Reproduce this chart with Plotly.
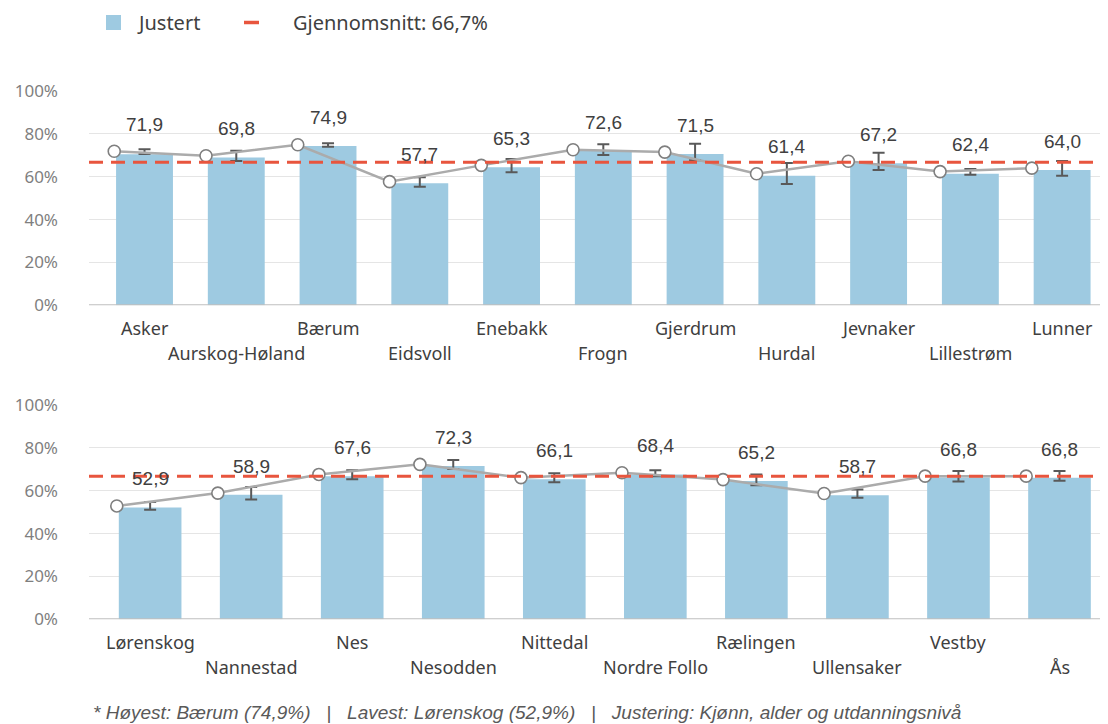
import plotly.graph_objects as go

# ---------------- data ----------------
top_cats = ["Asker", "Aurskog-Høland", "Bærum", "Eidsvoll", "Enebakk", "Frogn",
            "Gjerdrum", "Hurdal", "Jevnaker", "Lillestrøm", "Lunner"]
top_raw = [71.9, 69.8, 74.9, 57.7, 65.3, 72.6, 71.5, 61.4, 67.2, 62.4, 64.0]
top_adj = [70.5, 69.0, 74.3, 56.9, 64.4, 72.0, 70.6, 60.5, 66.3, 61.4, 63.1]
top_lo = [70.6, 67.3, 74.0, 55.3, 62.1, 70.1, 67.7, 56.6, 63.1, 60.9, 60.5]
top_hi = [72.8, 72.1, 75.6, 59.7, 68.3, 75.1, 75.4, 66.4, 71.2, 63.6, 67.3]

bot_cats = ["Lørenskog", "Nannestad", "Nes", "Nesodden", "Nittedal", "Nordre Follo",
            "Rælingen", "Ullensaker", "Vestby", "Ås"]
bot_raw = [52.9, 58.9, 67.6, 72.3, 66.1, 68.4, 65.2, 58.7, 66.8, 66.8]
bot_adj = [52.2, 58.1, 66.8, 71.5, 65.3, 67.6, 64.5, 57.9, 66.2, 66.0]
bot_lo = [51.1, 55.9, 65.4, 70.1, 63.9, 66.8, 62.6, 56.7, 64.3, 64.7]
bot_hi = [54.7, 61.7, 69.6, 74.3, 68.1, 69.6, 67.6, 60.6, 69.2, 69.2]

mean_val = 66.7
y_ticks = [0, 20, 40, 60, 80, 100]
y_ticktext = ["0%", "20%", "40%", "60%", "80%", "100%"]

legend_bar = "Justert"
legend_mean = "Gjennomsnitt: 66,7%"
footnote = ("* Høyest: Bærum (74,9%)   |   Lavest: Lørenskog (52,9%)   |   "
            "Justering: Kjønn, alder og utdanningsnivå")

# ---------------- styles ----------------
BAR_COLOR = "#9ECAE1"
LINE_COLOR = "#ABABAB"
MARKER_LINE = "#7F7F7F"
ERR_COLOR = "#595959"
MEAN_COLOR = "#E8553E"
TEXT_COLOR = "#404040"
TICK_COLOR = "#7F7F7F"
GRID_COLOR = "#E5E5E5"
AXIS_COLOR = "#BFBFBF"
CAT_FONT = "Noto Sans"
NUM_FONT = "Liberation Sans"

W, H = 1108, 724
OX, OY = 8, 8  # page body margin offset


def px(x):
    return (x - OX) / W


def py(y):
    return 1 - (y - OY) / H


fig = go.Figure()

panels = [
    dict(cats=top_cats, raw=top_raw, adj=top_adj, lo=top_lo, hi=top_hi, xa="x", ya="y"),
    dict(cats=bot_cats, raw=bot_raw, adj=bot_adj, lo=bot_lo, hi=bot_hi, xa="x2", ya="y2"),
]

OFFSET = 0.33
annotations = []
shapes = []

for p in panels:
    n = len(p["cats"])
    xs = list(range(n))
    fig.add_trace(go.Bar(
        x=xs, y=p["adj"], width=0.62, marker=dict(color=BAR_COLOR, line=dict(width=0)),
        error_y=dict(type="data", symmetric=False,
                     array=[h - a for h, a in zip(p["hi"], p["adj"])],
                     arrayminus=[a - l for a, l in zip(p["adj"], p["lo"])],
                     color=ERR_COLOR, thickness=2, width=6),
        xaxis=p["xa"], yaxis=p["ya"], showlegend=False, hoverinfo="skip",
    ))
    fig.add_trace(go.Scatter(
        x=[i - OFFSET for i in xs], y=p["raw"], mode="lines+markers",
        line=dict(color=LINE_COLOR, width=2.5),
        marker=dict(size=12, color="white", line=dict(color=MARKER_LINE, width=1.6)),
        xaxis=p["xa"], yaxis=p["ya"], showlegend=False, hoverinfo="skip",
    ))
    shapes.append(dict(type="line", xref=f"{p['xa']} domain", yref=p["ya"],
                       x0=0, x1=1, y0=mean_val, y1=mean_val,
                       line=dict(color=MEAN_COLOR, width=3, dash="14px,8px"), layer="above"))
    for i, v in enumerate(p["raw"]):
        annotations.append(dict(x=i, y=v, xref=p["xa"], yref=p["ya"],
                                text=f"{v:.1f}".replace(".", ","), showarrow=False,
                                yshift=27, font=dict(family=NUM_FONT, size=19, color=TEXT_COLOR)))
    for i, c in enumerate(p["cats"]):
        annotations.append(dict(x=i, y=0, xref=p["xa"], yref=p["ya"], text=c,
                                showarrow=False, yanchor="middle",
                                yshift=-23 if i % 2 == 0 else -48,
                                font=dict(family=CAT_FONT, size=18, color=TEXT_COLOR)))

# legend (manual)
shapes.append(dict(type="rect", xref="paper", yref="paper",
                   x0=px(106), x1=px(121), y0=py(30), y1=py(15),
                   fillcolor=BAR_COLOR, line=dict(width=0)))
shapes.append(dict(type="line", xref="paper", yref="paper",
                   x0=px(244), x1=px(259), y0=py(22.5), y1=py(22.5),
                   line=dict(color=MEAN_COLOR, width=3.5)))
annotations.append(dict(x=px(135), y=py(22), xref="paper", yref="paper",
                        text=legend_bar, showarrow=False, xanchor="left", yanchor="middle",
                        font=dict(family=CAT_FONT, size=20, color=TEXT_COLOR)))
annotations.append(dict(x=px(291), y=py(22), xref="paper", yref="paper",
                        text=legend_mean, showarrow=False, xanchor="left", yanchor="middle",
                        font=dict(family=CAT_FONT, size=20, color=TEXT_COLOR)))
annotations.append(dict(x=px(91), y=py(712), xref="paper", yref="paper",
                        text=f"<i>{footnote}</i>", showarrow=False, xanchor="left",
                        yanchor="middle",
                        font=dict(family=NUM_FONT, size=19, color="#595959")))

yaxis_common = dict(range=[0, 100], tickvals=y_ticks, ticktext=y_ticktext,
                    showgrid=True, gridcolor=GRID_COLOR, gridwidth=1.3,
                    zeroline=False, showline=False, ticks="", automargin=False,
                    ticklabelstandoff=30,
                    tickfont=dict(family=CAT_FONT, size=17, color=TICK_COLOR), fixedrange=True)
xaxis_common = dict(showgrid=False, zeroline=False, showticklabels=False, ticks="",
                    showline=False, automargin=False, fixedrange=True)

top_dom = [py(305.3), py(91)]
bot_dom = [py(619.3), py(405)]
x_dom = [px(89), px(1108)]

shapes.append(dict(type="line", xref="x domain", yref="y", x0=0, x1=1, y0=0, y1=0,
                   line=dict(color=AXIS_COLOR, width=2.2), layer="above"))
shapes.append(dict(type="line", xref="x2 domain", yref="y2", x0=0, x1=1, y0=0, y1=0,
                   line=dict(color=AXIS_COLOR, width=2.2), layer="above"))

fig.update_layout(
    template="none",
    autosize=False,
    width=W, height=H,
    margin=dict(l=0, r=0, t=0, b=0, pad=0, autoexpand=False),
    paper_bgcolor="white", plot_bgcolor="white",
    showlegend=False,
    xaxis=dict(domain=x_dom, range=[-0.605, len(top_cats) - 0.5], anchor="y", **xaxis_common),
    yaxis=dict(domain=top_dom, anchor="x", **yaxis_common),
    xaxis2=dict(domain=x_dom, range=[-0.605, len(bot_cats) - 0.52], anchor="y2", **xaxis_common),
    yaxis2=dict(domain=bot_dom, anchor="x2", **yaxis_common),
    annotations=annotations,
    shapes=shapes,
)

fig.write_html("out.html", config={"displayModeBar": False})
